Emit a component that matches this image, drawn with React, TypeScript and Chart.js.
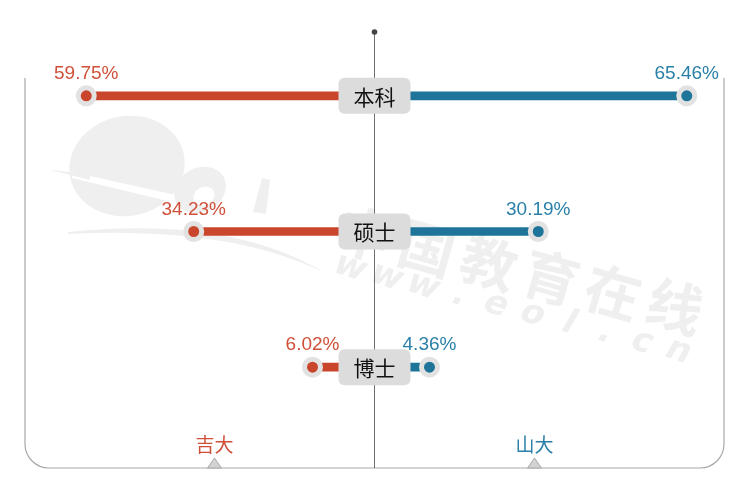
import React, { useEffect, useRef } from 'react';
import { Chart, registerables } from 'chart.js';

Chart.register(...registerables);

const categories = ['本科', '硕士', '博士'];
const seriesNames = ['吉大', '山大'];
const jidaValues = [59.75, 34.23, 6.02];
const shandaValues = [65.46, 30.19, 4.36];

const RED = '#c9462c';
const RED_TEXT = '#d0503a';
const BLUE = '#1e7499';
const BLUE_TEXT = '#2a80a8';
const GAP = 8.7;
const X_MAX = 83;
const LABEL_POS = 38;
const WM = '#efefef';

function drawWatermark(ctx: CanvasRenderingContext2D) {
  ctx.save();
  ctx.fillStyle = WM;
  // "e" blob
  ctx.beginPath();
  ctx.ellipse(127, 166, 58, 50, -0.2, 0, Math.PI * 2);
  ctx.fill();
  // white cut
  ctx.fillStyle = '#ffffff';
  ctx.beginPath();
  ctx.moveTo(72, 172);
  ctx.lineTo(180, 196);
  ctx.lineTo(180, 204);
  ctx.lineTo(72, 178);
  ctx.closePath();
  ctx.fill();
  // tail
  ctx.fillStyle = WM;
  ctx.beginPath();
  ctx.moveTo(50, 170);
  ctx.lineTo(90, 174);
  ctx.lineTo(90, 180);
  ctx.closePath();
  ctx.fill();
  // "o"
  ctx.beginPath();
  ctx.ellipse(200, 190, 27, 22, -0.5, 0, Math.PI * 2);
  ctx.fill();
  ctx.fillStyle = '#ffffff';
  ctx.beginPath();
  ctx.ellipse(204, 196, 11, 9, -0.5, 0, Math.PI * 2);
  ctx.fill();
  // "l"
  ctx.fillStyle = WM;
  ctx.beginPath();
  ctx.moveTo(262, 178);
  ctx.lineTo(270, 180);
  ctx.lineTo(266, 214);
  ctx.lineTo(253, 212);
  ctx.closePath();
  ctx.fill();
  // swoosh
  ctx.beginPath();
  ctx.moveTo(68, 232);
  ctx.quadraticCurveTo(230, 215, 325, 273);
  ctx.quadraticCurveTo(230, 226, 68, 234);
  ctx.closePath();
  ctx.fill();

  // Chinese text
  const ang = 13 * Math.PI / 180;
  const cn = '中国教育在线';
  ctx.font = 'bold 56px "Noto Sans CJK SC"';
  ctx.textAlign = 'center';
  ctx.textBaseline = 'middle';
  for (let i = 0; i < cn.length; i++) {
    ctx.save();
    ctx.translate(365 + i * 62, 234 + i * 14.5);
    ctx.rotate(ang + 0.05);
    ctx.fillText(cn[i], 0, 0);
    ctx.restore();
  }
  const url = 'www.eol.cn';
  ctx.font = 'bold 34px "DejaVu Sans"';
  for (let i = 0; i < url.length; i++) {
    ctx.save();
    ctx.translate(350 + i * 36.5, 268 + i * 9.3);
    ctx.rotate(ang + 0.1);
    ctx.transform(1, 0, -0.2, 1, 0, 0);
    ctx.fillText(url[i], 0, 0);
    ctx.restore();
  }
  ctx.restore();
}

function roundRect(ctx: CanvasRenderingContext2D, x: number, y: number, w: number, h: number, r: number) {
  ctx.beginPath();
  ctx.moveTo(x + r, y);
  ctx.lineTo(x + w - r, y);
  ctx.arcTo(x + w, y, x + w, y + r, r);
  ctx.lineTo(x + w, y + h - r);
  ctx.arcTo(x + w, y + h, x + w - r, y + h, r);
  ctx.lineTo(x + r, y + h);
  ctx.arcTo(x, y + h, x, y + h - r, r);
  ctx.lineTo(x, y + r);
  ctx.arcTo(x, y, x + r, y, r);
  ctx.closePath();
}

const decorPlugin = {
  id: 'decor',
  beforeDatasetsDraw(chart: any) {
    const ctx: CanvasRenderingContext2D = chart.ctx;
    const xs = chart.scales.x;
    const area = chart.chartArea;
    drawWatermark(ctx);
    ctx.save();
    // frame
    const top = 78;
    const bottom = 468;
    const r = 24;
    ctx.strokeStyle = '#a8a8a8';
    ctx.lineWidth = 1.2;
    ctx.beginPath();
    ctx.moveTo(area.left, top);
    ctx.lineTo(area.left, bottom - r);
    ctx.arcTo(area.left, bottom, area.left + r, bottom, r);
    ctx.lineTo(area.right - r, bottom);
    ctx.arcTo(area.right, bottom, area.right, bottom - r, r);
    ctx.lineTo(area.right, top);
    ctx.stroke();
    // centre line
    const x0 = xs.getPixelForValue(0);
    ctx.strokeStyle = '#6f6f6f';
    ctx.lineWidth = 1;
    ctx.beginPath();
    ctx.moveTo(x0, 32);
    ctx.lineTo(x0, bottom);
    ctx.stroke();
    ctx.fillStyle = '#444';
    ctx.beginPath();
    ctx.arc(x0, 32, 2.8, 0, Math.PI * 2);
    ctx.fill();
    // series labels + triangles
    const colors = [RED_TEXT, BLUE_TEXT];
    [-LABEL_POS, LABEL_POS].forEach((v, i) => {
      const px = xs.getPixelForValue(v);
      ctx.fillStyle = '#d2d2d2';
      ctx.strokeStyle = '#a8a8a8';
      ctx.lineWidth = 1;
      ctx.beginPath();
      ctx.moveTo(px - 7, bottom);
      ctx.lineTo(px, bottom - 10);
      ctx.lineTo(px + 7, bottom);
      ctx.closePath();
      ctx.fill();
      ctx.stroke();
      ctx.fillStyle = colors[i];
      ctx.font = '19px "Noto Sans CJK SC"';
      ctx.textAlign = 'center';
      ctx.textBaseline = 'middle';
      ctx.fillText(seriesNames[i], px, 445);
    });
    ctx.restore();
  },
  afterDatasetsDraw(chart: any) {
    const ctx: CanvasRenderingContext2D = chart.ctx;
    const xs = chart.scales.x;
    const ys = chart.scales.y;
    const x0 = xs.getPixelForValue(0);
    ctx.save();
    // category boxes
    categories.forEach((c, i) => {
      const y = ys.getPixelForValue(i);
      ctx.fillStyle = '#dcdcdc';
      roundRect(ctx, x0 - 36, y - 18, 72, 36, 6);
      ctx.fill();
      ctx.fillStyle = '#111';
      ctx.font = '21px "Noto Sans CJK SC"';
      ctx.textAlign = 'center';
      ctx.textBaseline = 'middle';
      ctx.fillText(c, x0, y + 1);
    });
    // value labels
    const sets = [
      { idx: 2, vals: jidaValues, color: RED_TEXT },
      { idx: 3, vals: shandaValues, color: BLUE_TEXT },
    ];
    sets.forEach((s) => {
      const meta = chart.getDatasetMeta(s.idx);
      meta.data.forEach((pt: any, i: number) => {
        ctx.fillStyle = s.color;
        ctx.font = '19px "Liberation Sans"';
        ctx.textAlign = 'center';
        ctx.textBaseline = 'middle';
        ctx.fillText(s.vals[i].toFixed(2) + '%', pt.x, pt.y - 22);
      });
    });
    ctx.restore();
  },
};

export default function App() {
  const ref = useRef<HTMLCanvasElement>(null);
  useEffect(() => {
    document.body.style.margin = '0';
    const canvas = ref.current;
    if (!canvas) return;
    const chart = new Chart(canvas, {
      type: 'bar',
      data: {
        labels: categories,
        datasets: [
          {
            type: 'bar',
            label: seriesNames[0],
            data: jidaValues.map((v) => [0, -(GAP + v)]) as any,
            backgroundColor: RED,
            barThickness: 8,
            grouped: false,
            order: 2,
          } as any,
          {
            type: 'bar',
            label: seriesNames[1],
            data: shandaValues.map((v) => [0, GAP + v]) as any,
            backgroundColor: BLUE,
            barThickness: 8,
            grouped: false,
            order: 2,
          } as any,
          {
            type: 'line',
            label: seriesNames[0] + ' points',
            indexAxis: 'y',
            data: jidaValues.map((v) => -(GAP + v)),
            showLine: false,
            pointRadius: 8,
            pointBorderWidth: 5,
            pointBackgroundColor: RED,
            pointBorderColor: '#e2e2e2',
            order: 0,
          } as any,
          {
            type: 'line',
            label: seriesNames[1] + ' points',
            indexAxis: 'y',
            data: shandaValues.map((v) => GAP + v),
            showLine: false,
            pointRadius: 8,
            pointBorderWidth: 5,
            pointBackgroundColor: BLUE,
            pointBorderColor: '#e2e2e2',
            order: 0,
          } as any,
        ],
      },
      options: {
        indexAxis: 'y',
        responsive: false,
        animation: false,
        events: [],
        layout: { padding: { left: 25, right: 26, top: 28, bottom: 65 } },
        plugins: { legend: { display: false }, tooltip: { enabled: false } },
        scales: {
          x: { type: 'linear', min: -X_MAX, max: X_MAX, display: false },
          y: { type: 'category', display: false, offset: true },
        },
      },
      plugins: [decorPlugin],
    });
    return () => chart.destroy();
  }, []);
  return (
    <div style={{ width: 750, height: 500 }}>
      <canvas ref={ref} width={750} height={500} />
    </div>
  );
}
